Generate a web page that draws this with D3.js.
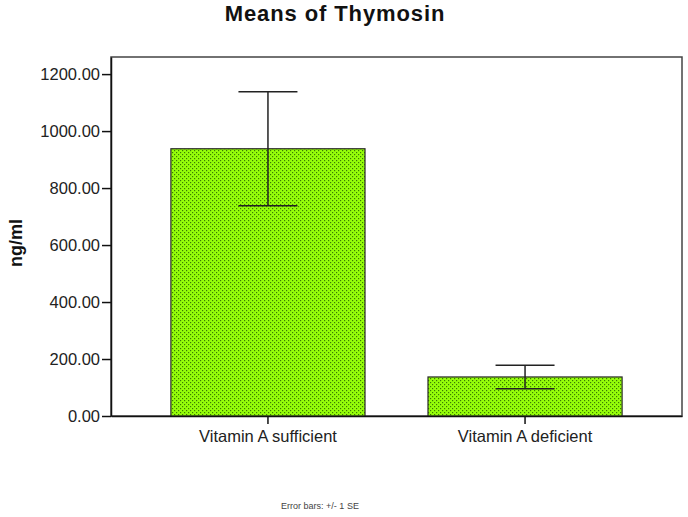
<!DOCTYPE html>
<html><head><meta charset="utf-8">
<script src="https://cdn.jsdelivr.net/npm/d3@7"></script>
<style>body{margin:0;background:#fff}svg{display:block}text{font-family:Arial,"Liberation Sans",sans-serif}</style>
</head><body>
<svg id="c" width="688" height="517"></svg>
<script>
const categories = ["Vitamin A sufficient", "Vitamin A deficient"];
const means = [938, 137];
const se = [200, 41];
const yTicks = [0, 200, 400, 600, 800, 1000, 1200];
const title = "Means of Thymosin";
const yLabel = "ng/ml";
const footnote = "Error bars: +/- 1 SE";

const svg = d3.select("#c");
const L = 111, R = 682, T = 57, B = 416;
const defs = svg.append("defs");
const pat = defs.append("pattern").attr("id","dots").attr("patternUnits","userSpaceOnUse")
  .attr("width",4).attr("height",4);
pat.append("rect").attr("width",4).attr("height",4).attr("fill","#96ff0a");
pat.append("rect").attr("x",0).attr("y",0).attr("width",1.2).attr("height",1.2).attr("fill","#3d7d00");
pat.append("rect").attr("x",2).attr("y",2).attr("width",1.2).attr("height",1.2).attr("fill","#3d7d00");

const x = d3.scaleBand().domain(categories).range([L, R]).paddingInner(0.245).paddingOuter(0.233);
const y = d3.scaleLinear().domain([0, 1260]).range([B, T]);

// frame
svg.append("rect").attr("x",L).attr("y",T).attr("width",R-L).attr("height",B-T)
  .attr("fill","none").attr("stroke","#444").attr("stroke-width",1.5);

const data = categories.map((c,i)=>({c, m:means[i], s:se[i]}));
svg.selectAll(".bar").data(data).join("rect").attr("class","bar")
  .attr("x",d=>x(d.c)).attr("y",d=>y(d.m)).attr("width",x.bandwidth()).attr("height",d=>B-y(d.m))
  .attr("fill","url(#dots)").attr("stroke","#2a2a2a").attr("stroke-width",1.2);

const cap = 59;
const eb = svg.selectAll(".eb").data(data).join("g").attr("class","eb")
  .attr("stroke","#222").attr("stroke-width",1.5);
eb.append("line").attr("x1",d=>x(d.c)+x.bandwidth()/2).attr("x2",d=>x(d.c)+x.bandwidth()/2)
  .attr("y1",d=>y(d.m+d.s)).attr("y2",d=>y(d.m-d.s));
eb.append("line").attr("x1",d=>x(d.c)+x.bandwidth()/2-cap/2).attr("x2",d=>x(d.c)+x.bandwidth()/2+cap/2)
  .attr("y1",d=>y(d.m+d.s)).attr("y2",d=>y(d.m+d.s));
eb.append("line").attr("x1",d=>x(d.c)+x.bandwidth()/2-cap/2).attr("x2",d=>x(d.c)+x.bandwidth()/2+cap/2)
  .attr("y1",d=>y(d.m-d.s)).attr("y2",d=>y(d.m-d.s));

// y axis
const ya = svg.append("g").attr("transform",`translate(${L},0)`)
  .call(d3.axisLeft(y).tickValues(yTicks).tickFormat(d3.format(".2f")).tickSize(9).tickSizeOuter(0));
ya.select(".domain").attr("stroke","#111").attr("stroke-width",1.5);
ya.selectAll(".tick line").attr("stroke","#111").attr("stroke-width",1.5);
ya.selectAll(".tick text").attr("font-size",16.5).attr("fill","#222").attr("font-family","Arial, Liberation Sans, sans-serif").attr("x",-11);

// x axis
const xa = svg.append("g").attr("transform",`translate(0,${B})`)
  .call(d3.axisBottom(x).tickSize(8).tickSizeOuter(0));
xa.select(".domain").attr("stroke","#111").attr("stroke-width",1.5);
xa.selectAll(".tick line").attr("stroke","#111").attr("stroke-width",1.5);
xa.selectAll(".tick text").attr("font-size",16.5).attr("fill","#222").attr("font-family","Arial, Liberation Sans, sans-serif").attr("y",14);

svg.append("text").attr("x",335).attr("y",21).attr("text-anchor","middle")
  .attr("font-size",22).attr("letter-spacing",0.9).attr("font-weight","bold").attr("fill","#111").text(title);
svg.append("text").attr("transform","translate(22,243) rotate(-90)").attr("text-anchor","middle")
  .attr("font-size",18).attr("font-weight","bold").attr("fill","#111").text(yLabel);
svg.append("text").attr("x",320).attr("y",509).attr("text-anchor","middle")
  .attr("font-size",9).attr("fill","#444").text(footnote);
</script>
</body></html>
